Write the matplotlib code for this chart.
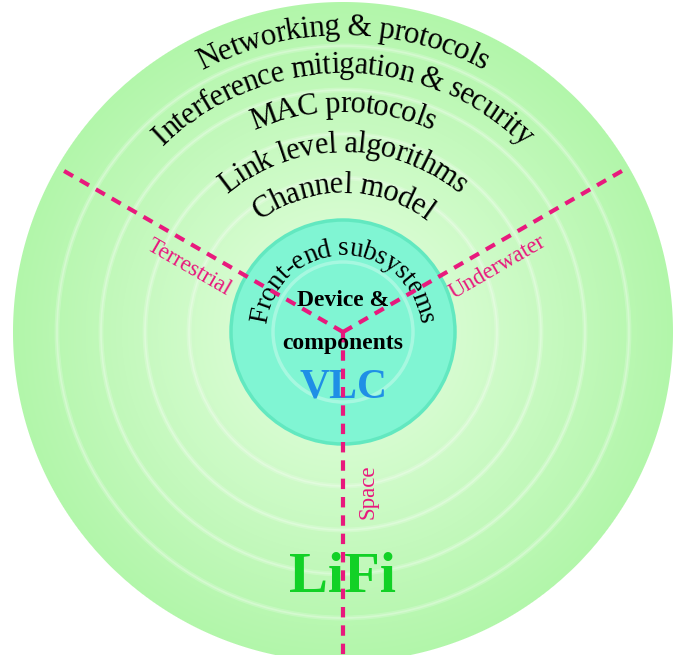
import numpy as np
import matplotlib
matplotlib.use("Agg")
import matplotlib.pyplot as plt
from matplotlib.patches import Circle
from matplotlib.font_manager import FontProperties
from matplotlib.textpath import TextToPath

# layers of the LiFi stack, inside out
core_text = ["Device &", "components"]
ring_layers = ["Front-end subsystems", "Channel model", "Link level algorithms",
               "MAC protocols", "Interference mitigation & security",
               "Networking & protocols"]
domains = ["Terrestrial", "Underwater", "Space"]
domain_angles = [150, 30, 270]      # direction of each dashed line (deg)
inner_label = "VLC"
outer_label = "LiFi"

W, H, DPI = 681, 655, 100
cx, cy = 343, 332
R = 330
R_core = 112
ring_edges = [154, 198, 242, 286]
baselines = [77, 139, 180, 220, 259, 297]
ring_sizes = [19.5, 22, 22, 22, 22, 22.5]
track = 0.955

PINK = "#e8197d"
SERIF = "Liberation Serif"

fig = plt.figure(figsize=(W / DPI, H / DPI), dpi=DPI)
ax = fig.add_axes([0, 0, 1, 1])
ax.set_xlim(0, W)
ax.set_ylim(H, 0)
ax.set_aspect("equal")
ax.axis("off")

# radial green background
yy, xx = np.mgrid[0:H, 0:W] + 0.5
rr = np.hypot(xx - cx, yy - cy)
t = np.clip((rr - R_core) / (R - R_core), 0, 1)[..., None]
c_in = np.array([214, 252, 208]) / 255
c_out = np.array([178, 246, 170]) / 255
rgb = c_in * (1 - t) + c_out * t
alpha = np.clip(R - rr + 0.5, 0, 1)[..., None]
ax.imshow(np.concatenate([rgb, alpha], axis=2), extent=(0, W, H, 0),
          origin="upper", zorder=0, interpolation="bilinear")

# soft white ring borders
for r in ring_edges:
    ax.add_patch(Circle((cx, cy), r, fill=False, ec="white", lw=3.5,
                        alpha=0.2, zorder=1))
    ax.add_patch(Circle((cx, cy), r, fill=False, ec="white", lw=1.2,
                        alpha=0.25, zorder=1))

# teal core
ax.add_patch(Circle((cx, cy), R_core, fc="#80f5d3", ec="#62e8c0", lw=2.5, zorder=2))
ax.add_patch(Circle((cx, cy), 70, fill=False, ec="white", lw=2.5, alpha=0.3, zorder=2))

# dashed domain lines
for ang in domain_angles:
    a = np.deg2rad(ang)
    ax.plot([cx, cx + R * np.cos(a)], [cy, cy - R * np.sin(a)], color=PINK,
            lw=3.0, ls=(0, (2.5, 1.9)), zorder=5, solid_capstyle="butt")

# domain labels along the lines
along = [166, 166, 160]
side = [21, -21, 25]
rots = [-30, 30, 90]
for name, ang, d, s, rot in zip(domains, domain_angles, along, side, rots):
    a = np.deg2rad(ang)
    ux, uy = np.cos(a), np.sin(a)
    nx, ny = -np.sin(a), np.cos(a)
    px = cx + d * ux + s * nx
    py = cy - (d * uy + s * ny)
    ax.text(px, py, name, color=PINK, fontsize=16.5, family=SERIF, rotation=rot,
            ha="center", va="center", rotation_mode="anchor", zorder=6)

# curved layer names
t2p = TextToPath()


def text_w(s, fp):
    w = t2p.get_text_width_height_descent(s + "|", fp, ismath=False)[0]
    w0 = t2p.get_text_width_height_descent("|", fp, ismath=False)[0]
    return (w - w0) * DPI / 72.0


def arc_text(s, r, size):
    fp = FontProperties(family=SERIF, size=size)
    edges = [0.0] + [text_w(s[:i + 1], fp) * track for i in range(len(s))]
    total = edges[-1]
    for i, ch in enumerate(s):
        if ch == " ":
            continue
        c = 0.5 * (edges[i] + edges[i + 1])
        th = np.pi / 2 + (total / 2 - c) / r
        ax.text(cx + r * np.cos(th), cy - r * np.sin(th), ch, fontproperties=fp,
                rotation=np.rad2deg(th) - 90, rotation_mode="anchor",
                ha="center", va="baseline", color="black", zorder=4)


for name, r, size in zip(ring_layers, baselines, ring_sizes):
    arc_text(name, r, size)

# central labels
ax.text(cx, 300, core_text[0], fontsize=17, family=SERIF, weight="bold",
        ha="center", va="center", zorder=6)
ax.text(cx, 343, core_text[1], fontsize=17, family=SERIF, weight="bold",
        ha="center", va="center", zorder=6)
ax.text(cx, 388, inner_label, fontsize=30, family=SERIF, weight="bold",
        color="#1f8fe6", ha="center", va="center", zorder=4)
ax.text(cx, 578, outer_label, fontsize=42, family=SERIF, weight="bold",
        color="#12d126", ha="center", va="center", zorder=4)

fig.savefig("out.png", dpi=DPI, facecolor="white")
